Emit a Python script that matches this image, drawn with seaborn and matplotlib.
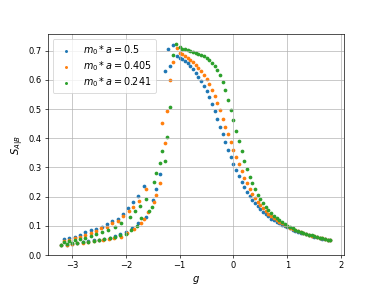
import numpy as np
import pandas as pd
import matplotlib
matplotlib.use("Agg")
import matplotlib.pyplot as plt
import seaborn as sns

# m0*a = 0.5
g_05 = [-3.20, -3.15, -3.10, -3.05, -3.00, -2.95, -2.90, -2.85, -2.80, -2.75,
        -2.70, -2.65, -2.60, -2.55, -2.50, -2.45, -2.40, -2.35, -2.30, -2.25,
        -2.20, -2.15, -2.10, -2.05, -2.00, -1.95, -1.88, -1.86, -1.78, -1.77,
        -1.67, -1.63, -1.50, -1.43, -1.37, -1.27, -1.22, -1.17, -1.12,
        -1.05, -1.00, -0.95, -0.90, -0.85, -0.80, -0.75, -0.70, -0.65, -0.60,
        -0.55, -0.50, -0.45, -0.40, -0.35, -0.30, -0.25, -0.20, -0.15, -0.10,
        -0.05, 0.00, 0.05, 0.10, 0.15, 0.20, 0.25, 0.30, 0.35, 0.40,
        0.45, 0.50, 0.55, 0.60, 0.65, 0.70, 0.75, 0.80, 0.85, 0.90,
        0.95, 1.00, 1.05, 1.10, 1.15, 1.20, 1.25, 1.30, 1.35, 1.40,
        1.45, 1.50, 1.55, 1.60, 1.65, 1.70, 1.75, 1.80]
s_05 = [0.034, 0.055, 0.036, 0.060, 0.039, 0.063, 0.042, 0.070, 0.044, 0.079,
        0.047, 0.085, 0.050, 0.090, 0.053, 0.097, 0.056, 0.105, 0.060, 0.115,
        0.066, 0.125, 0.072, 0.142, 0.080, 0.160, 0.091, 0.180, 0.108, 0.202,
        0.235, 0.131, 0.190, 0.225, 0.276, 0.631, 0.705, 0.647, 0.718,
        0.680, 0.676, 0.671, 0.663, 0.656, 0.647, 0.637, 0.625, 0.611, 0.596,
        0.579, 0.560, 0.540, 0.517, 0.492, 0.466, 0.440, 0.413, 0.387, 0.361,
        0.336, 0.312, 0.290, 0.269, 0.250, 0.232, 0.217, 0.203, 0.190, 0.178,
        0.167, 0.157, 0.148, 0.140, 0.132, 0.125, 0.119, 0.113, 0.108, 0.103,
        0.099, 0.095, 0.091, 0.087, 0.083, 0.080, 0.077, 0.074, 0.071, 0.068,
        0.066, 0.063, 0.061, 0.058, 0.056, 0.054, 0.052, 0.050]

# m0*a = 0.405
g_0405 = [-3.20, -3.15, -3.10, -3.05, -3.00, -2.95, -2.90, -2.85, -2.80, -2.75,
          -2.70, -2.65, -2.60, -2.55, -2.50, -2.46, -2.43, -2.35, -2.32, -2.25,
          -2.22, -2.15, -2.09, -2.05, -1.97, -1.94, -1.86, -1.85, -1.76, -1.72,
          -1.67, -1.63, -1.58, -1.48, -1.43, -1.37, -1.32, -1.27, -1.23, -1.17,
          -1.12, -1.05,
          -1.00, -0.95, -0.90, -0.85, -0.80, -0.75, -0.70, -0.65, -0.60,
          -0.55, -0.50, -0.45, -0.40, -0.35, -0.30, -0.25, -0.20, -0.15, -0.10,
          -0.05, 0.00, 0.05, 0.10, 0.15, 0.20, 0.25, 0.30, 0.35, 0.40,
          0.45, 0.50, 0.55, 0.60, 0.65, 0.70, 0.75, 0.80, 0.85, 0.90,
          0.95, 1.00, 1.05, 1.10, 1.15, 1.20, 1.25, 1.30, 1.35, 1.40,
          1.45, 1.50, 1.55, 1.60, 1.65, 1.70, 1.75, 1.80]
s_0405 = [0.033, 0.048, 0.035, 0.053, 0.037, 0.058, 0.040, 0.063, 0.042, 0.068,
          0.044, 0.075, 0.047, 0.082, 0.050, 0.091, 0.051, 0.097, 0.054, 0.108,
          0.057, 0.118, 0.063, 0.133, 0.074, 0.152, 0.163, 0.088, 0.185, 0.108,
          0.122, 0.227, 0.147, 0.182, 0.207, 0.245, 0.451, 0.382, 0.493, 0.599,
          0.662, 0.710,
          0.693, 0.687, 0.682, 0.676, 0.669, 0.661, 0.652, 0.642, 0.631,
          0.618, 0.603, 0.587, 0.566, 0.545, 0.521, 0.495, 0.467, 0.440, 0.413,
          0.387, 0.360, 0.335, 0.311, 0.287, 0.265, 0.245, 0.226, 0.210, 0.195,
          0.182, 0.170, 0.160, 0.150, 0.142, 0.134, 0.127, 0.120, 0.114, 0.108,
          0.103, 0.098, 0.093, 0.089, 0.085, 0.081, 0.078, 0.075, 0.072, 0.069,
          0.066, 0.064, 0.061, 0.059, 0.057, 0.055, 0.053, 0.051]

# m0*a = 0.241
g_0241 = [-3.20, -3.15, -3.10, -3.05, -3.00, -2.95, -2.90, -2.85, -2.80, -2.75,
          -2.70, -2.65, -2.60, -2.55, -2.50, -2.45, -2.40, -2.33, -2.30, -2.20,
          -2.20, -2.10, -2.08, -2.00, -1.92, -1.90, -1.82, -1.80, -1.73, -1.72,
          -1.63, -1.57, -1.52, -1.48, -1.43, -1.37, -1.32, -1.28, -1.23, -1.18,
          -1.12, -1.07,
          -1.00, -0.95, -0.90, -0.85, -0.80, -0.75, -0.70, -0.65, -0.60,
          -0.55, -0.50, -0.45, -0.40, -0.35, -0.30, -0.25, -0.20, -0.15, -0.10,
          -0.05, 0.00, 0.05, 0.10, 0.15, 0.20, 0.25, 0.30, 0.35, 0.40,
          0.45, 0.50, 0.55, 0.60, 0.65, 0.70, 0.75, 0.80, 0.85, 0.90,
          0.95, 1.00, 1.05, 1.10, 1.15, 1.20, 1.25, 1.30, 1.35, 1.40,
          1.45, 1.50, 1.55, 1.60, 1.65, 1.70, 1.75, 1.80]
s_0241 = [0.036, 0.045, 0.038, 0.048, 0.040, 0.051, 0.042, 0.055, 0.044, 0.060,
          0.046, 0.066, 0.049, 0.072, 0.052, 0.079, 0.055, 0.086, 0.058, 0.097,
          0.062, 0.067, 0.111, 0.073, 0.129, 0.085, 0.150, 0.100, 0.168, 0.128,
          0.193, 0.152, 0.163, 0.251, 0.280, 0.314, 0.356, 0.323, 0.403, 0.506,
          0.685, 0.721,
          0.712, 0.707, 0.704, 0.701, 0.698, 0.695, 0.692, 0.689, 0.685,
          0.680, 0.675, 0.668, 0.659, 0.648, 0.634, 0.616, 0.593, 0.564, 0.531,
          0.497, 0.462, 0.425, 0.389, 0.355, 0.323, 0.293, 0.268, 0.245, 0.225,
          0.207, 0.191, 0.177, 0.164, 0.153, 0.143, 0.134, 0.126, 0.119, 0.112,
          0.106, 0.100, 0.095, 0.091, 0.087, 0.083, 0.079, 0.076, 0.073, 0.070,
          0.067, 0.064, 0.062, 0.059, 0.057, 0.055, 0.053, 0.050]

labels = [r'$m_0*a=0.5$', r'$m_0*a=0.405$', r'$m_0*a=0.241$']
colors = sns.color_palette("tab10", 3)

plt.figure(figsize=(382 / 60, 287 / 60), dpi=60)
ax = plt.gca()

for gg, ss, lab, col in zip([g_05, g_0405, g_0241], [s_05, s_0405, s_0241], labels, colors):
    df = pd.DataFrame({'g': gg, 'S': ss})
    sns.scatterplot(data=df, x='g', y='S', color=col, marker='o', s=20,
                    linewidth=0, label=lab, ax=ax)

ax.set_xlabel(r'$g$', fontsize=12)
ax.set_ylabel(r'$S_{A|B}$', fontsize=12)
ax.legend(loc='upper left', fontsize=11.5, labelspacing=0.25, markerscale=0.8)
ax.grid(True)

plt.savefig('out.png', dpi=60)
